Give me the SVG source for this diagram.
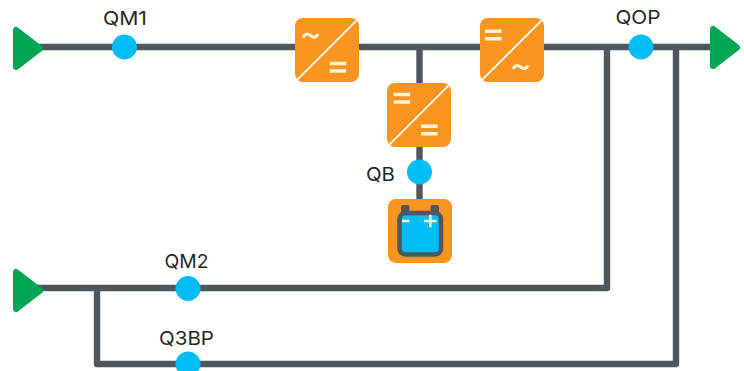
<svg xmlns="http://www.w3.org/2000/svg" width="744" height="371" viewBox="0 0 744 371">
<style>
.w{fill:none;stroke:#4f575e;stroke-width:6.400;stroke-linejoin:round}
.sw{fill:#00bdf6}
.tri{fill:#00a651;stroke:#00a651;stroke-width:6;stroke-linejoin:round}
.box{fill:#f9951f}
.diag{fill:none;stroke:#fff3dc;stroke-width:2}
.lbl{font-family:"Inter","Liberation Sans",sans-serif;font-size:19px;fill:#262626;text-anchor:middle}
</style>
<defs>
<g id="conv"><rect class="box" width="64" height="64" rx="8"/><line class="diag" x1="2" y1="62" x2="62" y2="2"/></g>
<path id="tld" d="M0 5C2.500 0.500 5 1 7.500 3S12.500 6 15 1.500" fill="none" stroke="#fff3dc" stroke-width="3"/>
<path id="dbl" d="M0 1.750H16.500M0 9.250H16.500" fill="none" stroke="#fff3dc" stroke-width="3.500"/>
</defs>
<g id="connectors">
<path class="w" d="M30 47H720"/>
<path class="w" d="M419.500 47V199"/>
<path class="w" d="M30 288H607V47"/>
<path class="w" d="M97 288V364H676V47"/>
</g>
<g id="source1"><path class="tri" d="M16 30V67L40 48.500Z"/></g>
<g id="source2"><path class="tri" d="M16 272V309L40 290.500Z"/></g>
<g id="load"><path class="tri" d="M713 29V66L737 47.500Z"/></g>
<g id="QM1"><circle class="sw" cx="124.500" cy="47" r="12.500"/><text class="lbl" x="125" y="25" textLength="44" lengthAdjust="spacingAndGlyphs">QM1</text></g>
<g id="QOP"><circle class="sw" cx="641" cy="47" r="12.500"/><text class="lbl" x="638" y="23.500" textLength="45" lengthAdjust="spacingAndGlyphs">QOP</text></g>
<g id="QB"><circle class="sw" cx="419.500" cy="172" r="12.500"/><text class="lbl" x="380.500" y="181" textLength="29" lengthAdjust="spacingAndGlyphs">QB</text></g>
<g id="QM2"><circle class="sw" cx="188" cy="288.500" r="12.500"/><text class="lbl" x="186.500" y="268" textLength="44" lengthAdjust="spacingAndGlyphs">QM2</text></g>
<g id="Q3BP"><circle class="sw" cx="188" cy="364" r="12.500"/><text class="lbl" x="186.500" y="345" textLength="55" lengthAdjust="spacingAndGlyphs">Q3BP</text></g>
<g id="rectifier"><use href="#conv" x="295" y="18"/><use href="#tld" x="303" y="32.500"/><use href="#dbl" x="329.700" y="61.700"/></g>
<g id="inverter"><use href="#conv" x="480" y="18"/><use href="#dbl" x="485" y="29.500"/><use href="#tld" x="513" y="64"/></g>
<g id="charger"><use href="#conv" x="387" y="83"/><use href="#dbl" x="393.700" y="92.700"/><use href="#dbl" x="421" y="124.500"/></g>
<g id="battery">
<rect class="box" x="388" y="199" width="64" height="64" rx="8"/>
<rect x="401" y="205" width="8.500" height="10" rx="2" fill="#4f575e"/>
<rect x="430.500" y="205" width="8.500" height="10" rx="2" fill="#4f575e"/>
<rect x="399.500" y="213" width="41.500" height="41.500" rx="6" fill="#00bdf6" stroke="#4f575e" stroke-width="4.500"/>
<path d="M402 221H409.500M424 221H436.500M430.300 214.700V227.200" fill="none" stroke="#fff3dc" stroke-width="2.500"/>
</g>
</svg>
